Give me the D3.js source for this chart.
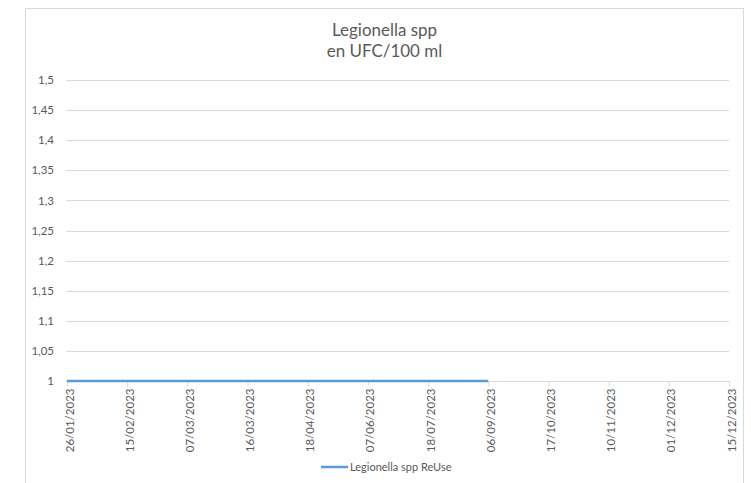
<!DOCTYPE html>
<html><head><meta charset="utf-8">
<script src="https://cdn.jsdelivr.net/npm/d3@7"></script>
<style>body{margin:0;background:#fff;} svg{display:block;font-family:Lato,"Open Sans",sans-serif;}</style>
</head><body>
<svg id="c" width="751" height="483"></svg>
<script>
const categories = ["26/01/2023","15/02/2023","07/03/2023","16/03/2023","18/04/2023","07/06/2023","18/07/2023","06/09/2023","17/10/2023","10/11/2023","01/12/2023","15/12/2023"];
const seriesName = "Legionella spp ReUse";
const values = [1,1,1,1,1,1,1,1,null,null,null,null];
const yTicks = [1,1.05,1.1,1.15,1.2,1.25,1.3,1.35,1.4,1.45,1.5];
const titleLines = ["Legionella spp","en UFC/100 ml"];

const svg = d3.select("#c");
const txt = "#595959";
const ff = "Lato,'Open Sans',sans-serif";
svg.append("rect").attr("x",25.5).attr("y",8.5).attr("width",718).attr("height",480)
  .attr("fill","#fff").attr("stroke","#d9d9d9");

const x = d3.scalePoint().domain(categories).range([67,729]);
const y = d3.scaleLinear().domain([1,1.5]).range([381,80]);

const title = svg.append("g").selectAll("text").data(titleLines).join("text")
  .attr("x",384.5).attr("y",(d,i)=>36+i*20.5).attr("text-anchor","middle")
  .attr("font-size",17).attr("fill",txt).text(d=>d);
// fit title width to reference (~105px for first line)
const w0 = title.nodes()[0].getComputedTextLength();
if (w0 > 0) title.attr("font-size", 17*105/w0);

// gridlines
svg.append("g").selectAll("line").data(yTicks.filter(d=>d>1)).join("line")
  .attr("x1",66).attr("x2",729).attr("y1",d=>Math.round(y(d))+0.5).attr("y2",d=>Math.round(y(d))+0.5)
  .attr("stroke","#d9d9d9").attr("stroke-width",1);

// y axis labels
const fmt = d=>String(d).replace(".",",");
const ya = svg.append("g").attr("transform","translate(66,0)")
  .call(d3.axisLeft(y).tickValues(yTicks).tickFormat(fmt).tickSize(0).tickPadding(12));
ya.select(".domain").remove();
ya.selectAll("text").attr("font-size",11.5).attr("fill",txt).attr("font-family",ff);

// x axis
const xa = svg.append("g").attr("transform","translate(0,381.5)")
  .call(d3.axisBottom(x).tickSize(5).tickPadding(4));
xa.select(".domain").attr("stroke","#d9d9d9").attr("d","M66,0H729");
xa.selectAll(".tick line").attr("stroke","#d9d9d9");
xa.selectAll("text").attr("font-size",11.5).attr("fill",txt).attr("font-family",ff)
  .attr("transform","rotate(-90)").attr("text-anchor","end")
  .attr("x",-7).attr("y",2).attr("dy","0.35em").attr("dx",0);

// line
const line = d3.line().defined(d=>d.v!=null).x(d=>x(d.c)).y(d=>y(d.v));
svg.append("path").datum(categories.map((c,i)=>({c,v:values[i]})))
  .attr("d",line).attr("fill","none").attr("stroke","#5b9bd5").attr("stroke-width",2.5);

// legend
svg.append("line").attr("x1",321).attr("x2",348).attr("y1",467).attr("y2",467)
  .attr("stroke","#5b9bd5").attr("stroke-width",2.5);
svg.append("text").attr("x",350).attr("y",471).attr("font-size",11).attr("fill",txt).text(seriesName);
</script>
</body></html>
